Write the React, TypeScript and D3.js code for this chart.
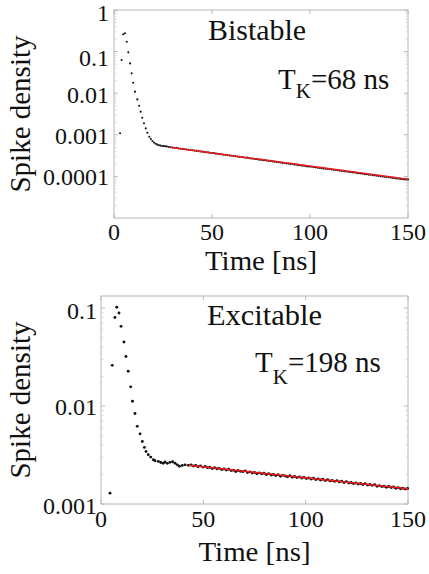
import React from "react";
import * as d3 from "d3";

// ---------- Data: top panel (Bistable) ----------
const topEarlyT = [3.1, 3.9, 4.7, 5.6, 6.5, 7.3, 8.2, 9.0, 9.8, 10.7, 11.9, 12.8, 13.6, 14.4, 15.3, 16.2, 17.0, 18.0, 18.8, 19.6, 20.4, 21.3, 22.1, 23.0, 23.8, 24.7, 25.5, 26.3];
const topEarlyV = [1.09e-3, 0.063, 0.26, 0.275, 0.173, 0.096, 0.052, 0.030, 0.0179, 0.0109, 0.0071, 0.0050, 0.0036, 0.00258, 0.00189, 0.00143, 0.00112, 9.0e-4, 7.9e-4, 7.1e-4, 6.5e-4, 6.1e-4, 5.8e-4, 5.6e-4, 5.5e-4, 5.4e-4, 5.35e-4, 5.3e-4];
const topTailStart = 27;
const topTailStep = 1;
const topTailUnit = 1e-4;
const topTailV = [
  5.22, 5.10, 5.02, 4.93, 4.80, 4.85, 4.70, 4.62, 4.58, 4.50, 4.44, 4.38, 4.30, 4.25,
  4.20, 4.10, 4.12, 3.98, 3.95, 3.88, 3.80, 3.78, 3.70, 3.64, 3.62, 3.52, 3.50, 3.42,
  3.40, 3.32, 3.30, 3.22, 3.20, 3.14, 3.12, 3.04, 3.02, 2.95, 2.92, 2.88, 2.80, 2.82,
  2.74, 2.70, 2.68, 2.62, 2.60, 2.52, 2.53, 2.46, 2.44, 2.40, 2.35, 2.36, 2.28, 2.26,
  2.22, 2.18, 2.16, 2.10, 2.10, 2.04, 2.03, 2.00, 1.98, 1.92, 1.92, 1.86, 1.85, 1.80,
  1.80, 1.75, 1.74, 1.72, 1.70, 1.66, 1.65, 1.61, 1.59, 1.58, 1.54, 1.53, 1.50, 1.50,
  1.46, 1.45, 1.42, 1.40, 1.39, 1.35, 1.36, 1.31, 1.31, 1.28, 1.28, 1.24, 1.24, 1.20,
  1.19, 1.17, 1.16, 1.13, 1.13, 1.10, 1.10, 1.07, 1.06, 1.04, 1.03, 1.01, 1.00, 0.98,
  0.97, 0.96, 0.95, 0.92, 0.92, 0.89, 0.89, 0.87, 0.86, 0.85, 0.84, 0.84,
];
const topFitT = [28.6, 150];
const topFitV = [5.0e-4, 8.5e-5];

// ---------- Data: bottom panel (Excitable) ----------
const botEarlyT = [4.4, 5.5, 6.8, 7.7, 8.8, 9.8, 11.2, 12.2, 13.3, 14.5, 15.4, 16.6, 17.7, 19.1, 20.2, 21.2, 22.0, 23.1, 24.3, 25.6, 26.4, 28.0, 29.2, 30.4, 31.3, 32.4, 33.7, 35.0, 36.2, 37.3, 38.3, 39.7, 41.1, 42.7];
const botEarlyV = [1.29e-3, 0.026, 0.080, 0.102, 0.089, 0.065, 0.045, 0.032, 0.0226, 0.0157, 0.0112, 0.0084, 0.0062, 0.0052, 0.00435, 0.00378, 0.00344, 0.00318, 0.00301, 0.00283, 0.00276, 0.00272, 0.00265, 0.00261, 0.00268, 0.00260, 0.00266, 0.00270, 0.00261, 0.00251, 0.00243, 0.00247, 0.00251, 0.00248];
const botTailStart = 44;
const botTailStep = 1.15;
const botTailUnit = 1e-3;
const botTailV = [
  2.50, 2.44, 2.47, 2.40, 2.45, 2.38, 2.42, 2.35, 2.37, 2.30, 2.34, 2.29, 2.31, 2.25,
  2.28, 2.22, 2.26, 2.20, 2.21, 2.15, 2.20, 2.16, 2.14, 2.18, 2.10, 2.13, 2.07, 2.10,
  2.04, 2.08, 2.03, 2.06, 2.00, 2.04, 1.98, 2.00, 1.95, 1.99, 1.92, 1.96, 1.93, 1.90,
  1.94, 1.88, 1.91, 1.86, 1.89, 1.84, 1.87, 1.82, 1.84, 1.80, 1.83, 1.78, 1.80, 1.76,
  1.79, 1.74, 1.77, 1.72, 1.74, 1.70, 1.73, 1.68, 1.71, 1.66, 1.69, 1.64, 1.66, 1.62,
  1.64, 1.60, 1.62, 1.58, 1.61, 1.56, 1.58, 1.55, 1.57, 1.52, 1.54, 1.51, 1.52, 1.48,
  1.51, 1.47, 1.49, 1.45, 1.47, 1.43, 1.45, 1.42, 1.44,
];
const botFitT = [43, 150];
const botFitV = [2.48e-3, 1.43e-3];

// ---------- Ticks / labels ----------
const xTicks = [0, 50, 100, 150];
const topYTicks = [1, 0.1, 0.01, 0.001, 0.0001];
const topYLabels = ["1", "0.1", "0.01", "0.001", "0.0001"];
const botYTicks = [0.1, 0.01, 0.001];
const botYLabels = ["0.1", "0.01", "0.001"];

const FONT = "Times New Roman, Liberation Serif, Tinos, DejaVu Serif, serif";
const FRAME = "#b8b8b8";

type PanelProps = {
  left: number; right: number; top: number; bottom: number;
  yDomain: [number, number];
  yTicks: number[]; yLabels: string[];
  earlyT: number[]; earlyV: number[];
  tailStart: number; tailStep: number; tailUnit: number; tailV: number[];
  fitT: number[]; fitV: number[];
  dotR: number;
  yLabelRight: number;
  xTickBaseline: number;
  xLabelBaseline: number;
  title: string; titleX: number; titleY: number; titleLen: number;
  tkX: number; tkY: number; tkDy: number; tkText: string;
  labelYOffset: number[];
};

function Panel(p: PanelProps) {
  const x = d3.scaleLinear().domain([0, 150]).range([p.left, p.right]);
  const y = d3.scaleLog().domain(p.yDomain).range([p.bottom, p.top]);
  const pts: [number, number][] = [];
  p.earlyT.forEach((t, i) => pts.push([t, p.earlyV[i]]));
  p.tailV.forEach((v, i) => pts.push([p.tailStart + i * p.tailStep, v * p.tailUnit]));
  const line = d3.line<number>().x((_, i) => x(p.fitT[i])).y((v) => y(v));

  const minor: number[] = [];
  const lo = Math.floor(Math.log10(p.yDomain[0]));
  const hi = Math.ceil(Math.log10(p.yDomain[1]));
  for (let e = lo; e < hi; e++) {
    for (let m = 2; m <= 9; m++) {
      const v = m * Math.pow(10, e);
      if (v > p.yDomain[0] && v < p.yDomain[1]) minor.push(v);
    }
  }
  const cy = (p.top + p.bottom) / 2;
  const cx = (p.left + p.right) / 2;
  const tf = { fontFamily: FONT };
  return (
    <g>
      <rect x={p.left} y={p.top} width={p.right - p.left} height={p.bottom - p.top} fill="none" stroke={FRAME} strokeWidth={1} />
      {minor.map((v, i) => (
        <g key={"mn" + i} stroke="#d0d0d0" strokeWidth={0.8}>
          <line x1={p.left} x2={p.left + 2.5} y1={y(v)} y2={y(v)} />
          <line x1={p.right} x2={p.right - 2.5} y1={y(v)} y2={y(v)} />
        </g>
      ))}
      {p.yTicks.map((v, i) => (
        <g key={"yt" + i}>
          <line x1={p.left} x2={p.left + 4} y1={y(v)} y2={y(v)} stroke={FRAME} />
          <line x1={p.right} x2={p.right - 4} y1={y(v)} y2={y(v)} stroke={FRAME} />
          <text x={p.yLabelRight} y={y(v) + p.labelYOffset[i]} textAnchor="end" dominantBaseline="central" style={tf} fontSize={24} fill="#111">
            {p.yLabels[i]}
          </text>
        </g>
      ))}
      {xTicks.map((t, i) => (
        <g key={"xt" + i}>
          <line x1={x(t)} x2={x(t)} y1={p.bottom} y2={p.bottom - 4} stroke={FRAME} />
          <line x1={x(t)} x2={x(t)} y1={p.top} y2={p.top + 4} stroke={FRAME} />
          <text x={x(t)} y={p.xTickBaseline} textAnchor="middle" style={tf} fontSize={24} fill="#111">
            {t}
          </text>
        </g>
      ))}
      {pts.map(([t, v], i) => (
        <circle key={"p" + i} cx={x(t)} cy={y(v)} r={p.dotR} fill="#111" />
      ))}
      <path d={line(p.fitV) || ""} stroke="#ee1c1c" strokeWidth={1.5} fill="none" />
      <text x={cx} y={p.xLabelBaseline} textAnchor="middle" style={tf} fontSize={27} fill="#111" textLength={112} lengthAdjust="spacingAndGlyphs">
        Time [ns]
      </text>
      <text transform={`translate(30,${cy}) rotate(-90)`} textAnchor="middle" style={tf} fontSize={29} fill="#111" textLength={157} lengthAdjust="spacingAndGlyphs">
        Spike density
      </text>
      <text x={p.titleX} y={p.titleY} style={tf} fontSize={29} fill="#111" textLength={p.titleLen} lengthAdjust="spacingAndGlyphs">
        {p.title}
      </text>
      <text x={p.tkX} y={p.tkY} style={tf} fontSize={29} fill="#111">
        <tspan>T</tspan>
        <tspan dy={p.tkDy} fontSize={21}>K</tspan>
        <tspan dy={-p.tkDy}>{p.tkText}</tspan>
      </text>
    </g>
  );
}

export default function App() {
  return (
    <svg width={429} height={574} style={{ position: "absolute", left: 0, top: 0, background: "#fff" }}>
      <rect width={429} height={574} fill="#fff" />
      <Panel
        left={114} right={408} top={10} bottom={218}
        yDomain={[1e-5, 1]}
        yTicks={topYTicks} yLabels={topYLabels}
        earlyT={topEarlyT} earlyV={topEarlyV}
        tailStart={topTailStart} tailStep={topTailStep} tailUnit={topTailUnit} tailV={topTailV}
        fitT={topFitT} fitV={topFitV}
        dotR={1.05}
        yLabelRight={109}
        xTickBaseline={240}
        xLabelBaseline={270}
        title="Bistable" titleX={208} titleY={40} titleLen={98}
        tkX={278} tkY={89} tkDy={9} tkText="=68 ns"
        labelYOffset={[3, 6, 2, 1, 1]}
      />
      <Panel
        left={101} right={408} top={296} bottom={504}
        yDomain={[0.001, 0.1327]}
        yTicks={botYTicks} yLabels={botYLabels}
        earlyT={botEarlyT} earlyV={botEarlyV}
        tailStart={botTailStart} tailStep={botTailStep} tailUnit={botTailUnit} tailV={botTailV}
        fitT={botFitT} fitV={botFitV}
        dotR={1.45}
        yLabelRight={97}
        xTickBaseline={527}
        xLabelBaseline={561}
        title="Excitable" titleX={207} titleY={325} titleLen={115}
        tkX={255} tkY={372} tkDy={12} tkText="=198 ns"
        labelYOffset={[3, 1, 2]}
      />
    </svg>
  );
}
